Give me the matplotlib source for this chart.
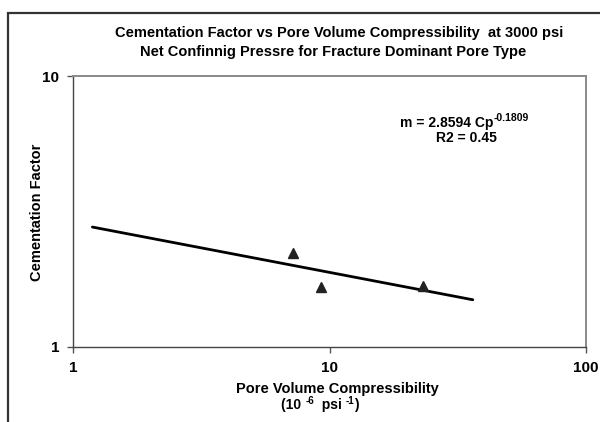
import matplotlib
matplotlib.use("Agg")
import matplotlib.pyplot as plt
from matplotlib.patches import Rectangle
from matplotlib.transforms import IdentityTransform
import numpy as np

plt.rcParams['font.family'] = ['Liberation Sans', 'DejaVu Sans']

# Data
compressibility = [7.2, 9.3, 23.1]        # 10^-6 psi^-1
cementation = [2.22, 1.67, 1.68]
fit_a = 2.8594
fit_b = -0.1809
fit_range = [1.19, 36.2]
x_ticks = [1, 10, 100]
y_ticks = [1, 10]

W, H = 600, 422
fig = plt.figure(figsize=(W/100, H/100), dpi=100)
ax = fig.add_axes([73/W, 1-347/H, (586-73)/W, (347-76)/H])

# outer frame
fig.patches.append(Rectangle((8/W, -0.05), 1.1, 1-13/H+0.05, transform=fig.transFigure,
                             fill=False, edgecolor='#333333', linewidth=1.6, clip_on=False))

xs = np.logspace(np.log10(fit_range[0]), np.log10(fit_range[1]), 100)
ax.plot(xs, fit_a * xs**fit_b, color='black', lw=2.0, solid_capstyle='round')
ax.plot(compressibility, cementation, linestyle='none', marker='^', color='#222222',
        markersize=6.5)

ax.set_xscale('log')
ax.set_yscale('log')
ax.set_xlim(1, 100)
ax.set_ylim(1, 10)
ax.set_xticks(x_ticks)
ax.set_xticklabels([str(v) for v in x_ticks])
ax.set_yticks(y_ticks)
ax.set_yticklabels([str(v) for v in y_ticks])
ax.minorticks_off()
ax.tick_params(axis='both', direction='out', length=4, width=1, color='#555555',
               labelsize=11, pad=6)
for lab in ax.get_xticklabels() + ax.get_yticklabels():
    lab.set_fontweight('bold')

for s in ['left', 'bottom']:
    ax.spines[s].set_color('#444444')
    ax.spines[s].set_linewidth(1.0)
for s in ['top', 'right']:
    ax.spines[s].set_color('#8a8a8a')
    ax.spines[s].set_linewidth(1.4)

renderer = fig.canvas.get_renderer()


def rich_text(xc, yc, pieces, ha='center'):
    """pieces: list of (text, fontsize, dy_pixels). Positions in pixels from top-left."""
    arts = []
    for txt, fs, dy in pieces:
        t = fig.text(0, 0, txt, fontsize=fs, fontweight='bold', va='center', ha='left',
                     transform=IdentityTransform())
        arts.append((t, dy))
    widths = [t.get_window_extent(renderer).width for t, _ in arts]
    total = sum(widths)
    x = xc - total/2 if ha == 'center' else xc
    for (t, dy), w in zip(arts, widths):
        t.set_position((x, H - yc + dy))
        x += w


fig.text(339/W, 1-33/H, 'Cementation Factor vs Pore Volume Compressibility  at 3000 psi',
         ha='center', va='center', fontsize=10.5, fontweight='bold')
fig.text(333/W, 1-52/H, 'Net Confinnig Pressre for Fracture Dominant Pore Type',
         ha='center', va='center', fontsize=10.5, fontweight='bold')

fig.text(37/W, 1-212/H, 'Cementation Factor', rotation=90, ha='center', va='center',
         fontsize=10.5, fontweight='bold')
fig.text(337/W, 1-389/H, 'Pore Volume Compressibility', ha='center', va='center',
         fontsize=10.5, fontweight='bold')
rich_text(320, 405, [('(10 ', 10, 0), ('-6', 7, 4), ('  psi ', 10, 0), ('-1', 7, 4),
                     (')', 10, 0)])

rich_text(400, 123, [('m = 2.8594 Cp', 10, 0), ('-0.1809', 7.5, 5)], ha='left')
fig.text(466/W, 1-138/H, 'R2 = 0.45', ha='center', va='center', fontsize=10,
         fontweight='bold')

fig.savefig('out.png', dpi=100)
